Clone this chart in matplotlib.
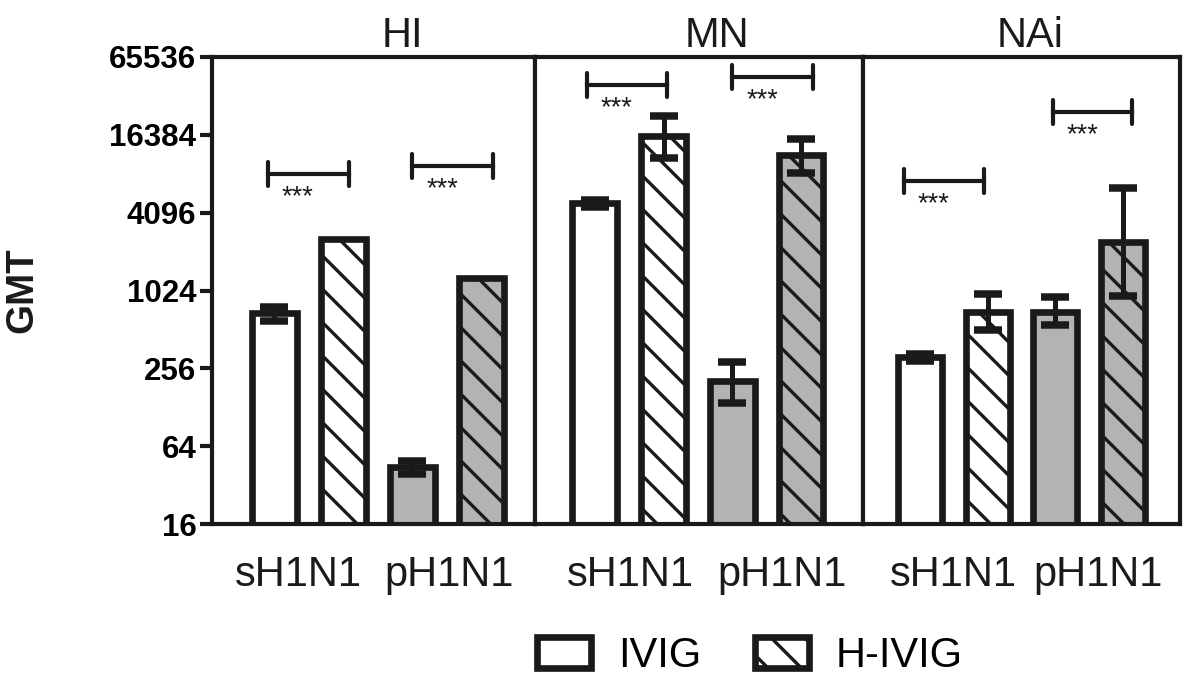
import numpy as np
import matplotlib
matplotlib.use("Agg")
import matplotlib.pyplot as plt
from matplotlib.patches import Patch
from matplotlib.ticker import FixedLocator, FixedFormatter, NullLocator

K = 1.5  # point scale (sizes below were tuned for 150 dpi)
plt.rcParams['font.family'] = ['Liberation Sans', 'DejaVu Sans']
plt.rcParams['hatch.linewidth'] = 1.6 * K

# ---------------- data ----------------
panels = ["HI", "MN", "NAi"]
strains = ["sH1N1", "pH1N1"]
products = ["IVIG", "H-IVIG"]
# bar order within each panel: sH1N1 IVIG, sH1N1 H-IVIG, pH1N1 IVIG, pH1N1 H-IVIG
hi_gmt = [680, 2540, 44, 1270]
hi_lo = [600, 2540, 39, 1270]
hi_hi = [757, 2540, 49, 1270]

mn_gmt = [4900, 16100, 203, 11500]
mn_lo = [4560, 10900, 137, 8350]
mn_hi = [5150, 23000, 285, 15280]

nai_gmt = [311, 704, 704, 2450]
nai_lo = [290, 503, 551, 921]
nai_hi = [328, 970, 904, 6390]

# significance brackets: (first bar index of pair, bracket height in GMT)
hi_sig = [(0, 8192), (2, 9400)]
mn_sig = [(0, 39800), (2, 46000)]
nai_sig = [(0, 7230), (2, 24600)]
sig_label = "***"

yticks = [16, 64, 256, 1024, 4096, 16384, 65536]

data = [
    (hi_gmt, hi_lo, hi_hi, hi_sig),
    (mn_gmt, mn_lo, mn_hi, mn_sig),
    (nai_gmt, nai_lo, nai_hi, nai_sig),
]

# ---------------- style / layout ----------------
W, H, DPI = 1200, 689, 100
fig = plt.figure(figsize=(W / DPI, H / DPI), dpi=DPI)
edge = '#1a1a1a'
gray = '#b3b3b3'
faces = ['white', 'white', gray, gray]
hatches = ['', '\\', '', '\\']

px_edges = [212, 535, 863, 1180]
y_bot, y_top = 524, 57
title_x = [0.59, 0.555, 0.527]
xtick_pos = [[0.35, 2.54], [0.51, 2.72], [0.5, 2.63]]
xlims = [(-0.90, 3.78), (-0.87, 3.90), (-0.84, 3.84)]
br_start = [[-0.09, 0.0], [-0.12, 0.0], [-0.23, -0.04]]
br_len = 1.17

x = np.arange(4)
for p, (name, (gmt, lo, hi, sig)) in enumerate(zip(panels, data)):
    l = px_edges[p] / W
    w = (px_edges[p + 1] - px_edges[p]) / W
    b = 1 - y_bot / H
    h = (y_bot - y_top) / H
    ax = fig.add_axes([l, b, w, h])
    ax.set_yscale('log', base=2)
    ax.set_ylim(16, 65536)
    ax.set_xlim(*xlims[p])
    gmt = np.array(gmt, float)
    lo = np.array(lo, float)
    hi = np.array(hi, float)
    ax.bar(x, gmt - 8, bottom=8, width=0.65, color=faces, edgecolor=edge,
           linewidth=3.2 * K, hatch=hatches, zorder=2)
    m = hi > lo
    ax.errorbar(x[m], gmt[m], yerr=[gmt[m] - lo[m], hi[m] - gmt[m]], fmt='none',
                ecolor=edge, elinewidth=2.4 * K, capsize=6.8 * K, capthick=3.6 * K,
                zorder=3)
    for k, (i0, yb) in enumerate(sig):
        xa = i0 + br_start[p][k]
        xb = xa + br_len
        ax.plot([xa, xb], [yb, yb], color=edge, lw=2.0 * K, zorder=4)
        for xx in (xa, xb):
            ax.plot([xx, xx], [yb / 1.238, yb * 1.238], color=edge, lw=2.0 * K,
                    solid_capstyle='round', zorder=4)
        ax.annotate(sig_label, xy=((xa + xb) / 2 - 0.15, yb), xytext=(0, -5 * K),
                    textcoords='offset points', ha='center', va='top',
                    fontsize=13 * K, color=edge)
    for s in ax.spines.values():
        s.set_linewidth(2.0 * K)
        s.set_color(edge)
    ax.yaxis.set_minor_locator(NullLocator())
    if p == 0:
        ax.yaxis.set_major_locator(FixedLocator(yticks))
        ax.yaxis.set_major_formatter(FixedFormatter([str(t) for t in yticks]))
        ax.tick_params(axis='y', length=6 * K, width=2.0 * K, pad=1.5 * K,
                       labelsize=15 * K, color=edge)
        for t in ax.get_yticklabels():
            t.set_fontweight('bold')
    else:
        ax.tick_params(axis='y', left=False, labelleft=False)
    ax.set_xticks(xtick_pos[p])
    ax.set_xticklabels(strains)
    ax.tick_params(axis='x', length=0, pad=15 * K, labelsize=20 * K, labelcolor=edge)
    ax.set_title(name, fontsize=20 * K, x=title_x[p], pad=5 * K, color=edge)

fig.text(22 / W, 1 - 290 / H, 'GMT', rotation=90, fontsize=18.5 * K,
         fontweight='bold', ha='center', va='center', color=edge)

handles = [Patch(facecolor='white', edgecolor=edge, linewidth=3.2 * K, hatch=hatches[i])
           for i in range(2)]
fig.legend(handles, products, loc='center', bbox_to_anchor=(0.625, 0.048), ncol=2,
           frameon=False, fontsize=20 * K, handlelength=1.3, handleheight=0.77,
           handletextpad=0.65, columnspacing=1.27)

fig.savefig('out.png', dpi=DPI)
